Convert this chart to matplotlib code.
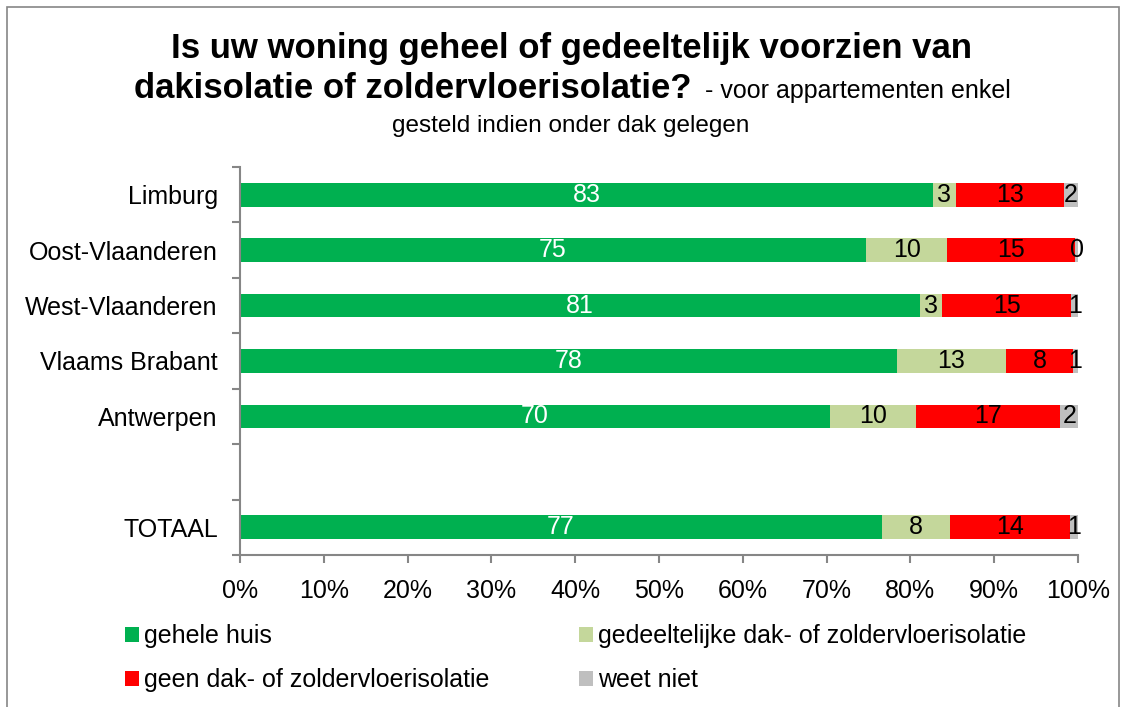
import matplotlib
matplotlib.use('Agg')

import matplotlib.pyplot as plt
from matplotlib.patches import Patch, Rectangle
from matplotlib.ticker import FixedLocator, PercentFormatter

plt.rcParams['font.family'] = ['Liberation Sans', 'DejaVu Sans']

categories = ['Limburg', 'Oost-Vlaanderen', 'West-Vlaanderen', 'Vlaams Brabant', 'Antwerpen', 'TOTAAL']
positions = [6, 5, 4, 3, 2, 0]  # slot 1 is left empty, as in the original

gehele = [82.7, 74.7, 81.1, 78.4, 70.4, 76.6]
gedeeltelijk = [2.7, 9.7, 2.7, 13.0, 10.3, 8.1]
geen = [12.9, 15.3, 15.4, 8.0, 17.2, 14.3]
weet_niet = [1.7, 0.3, 0.8, 0.6, 2.1, 1.0]

series = [
    ('gehele huis', gehele, '#00B050', 'white'),
    ('gedeeltelijke dak- of zoldervloerisolatie', gedeeltelijk, '#C4D79B', 'black'),
    ('geen dak- of zoldervloerisolatie', geen, '#FF0000', 'black'),
    ('weet niet', weet_niet, '#BFBFBF', 'black'),
]

W, H = 1128, 707
fig = plt.figure(figsize=(W / 100, H / 100), dpi=100)
ax = fig.add_axes([240 / W, 1 - 555 / H, 838 / W, 388 / H])

left = [0.0] * len(categories)
for name, vals, color, tcol in series:
    bars = ax.barh(positions, vals, left=left, height=0.43, color=color, label=name)
    for b, v, l in zip(bars, vals, left):
        ax.text(l + v / 2, b.get_y() + b.get_height() / 2, '%d' % round(v),
                ha='center', va='center', color=tcol, fontsize=18)
    left = [a + b for a, b in zip(left, vals)]

ax.set_xlim(0, 100)
ax.set_ylim(-0.5, 6.5)
ax.xaxis.set_major_locator(FixedLocator(range(0, 101, 10)))
ax.xaxis.set_major_formatter(PercentFormatter(decimals=0))
ax.set_yticks(positions)
ax.set_yticklabels(categories)
ax.yaxis.set_minor_locator(FixedLocator([i - 0.5 for i in range(8)]))

axis_gray = '#868686'
for s in ['top', 'right']:
    ax.spines[s].set_visible(False)
for s in ['left', 'bottom']:
    ax.spines[s].set_color(axis_gray)
    ax.spines[s].set_linewidth(1.5)
ax.tick_params(axis='y', which='major', length=0, pad=16, labelsize=18)
ax.tick_params(axis='y', which='minor', length=6, width=1.5, color=axis_gray)
ax.tick_params(axis='x', which='major', length=6, width=1.5, color=axis_gray, pad=11, labelsize=18)

# title
fig.text(571.5 / W, 1 - 58 / H, 'Is uw woning geheel of gedeeltelijk voorzien van',
         ha='center', va='baseline', fontsize=25, fontweight='bold')
fig.text(691 / W, 1 - 98 / H, 'dakisolatie of zoldervloerisolatie?',
         ha='right', va='baseline', fontsize=25, fontweight='bold')
fig.text(705 / W, 1 - 98 / H, '- voor appartementen enkel',
         ha='left', va='baseline', fontsize=18)
fig.text(571 / W, 1 - 132 / H, 'gesteld indien onder dak gelegen',
         ha='center', va='baseline', fontsize=17.5)

# legend (row-wise order)
h = [Patch(facecolor=c, edgecolor='none') for _, _, c, _ in series]
lab = [n for n, _, _, _ in series]
order = [0, 2, 1, 3]
fig.legend([h[i] for i in order], [lab[i] for i in order], ncol=2,
           loc='upper left', bbox_to_anchor=(125 / W, 1 - 624 / H),
           frameon=False, fontsize=18, borderpad=0, borderaxespad=0,
           handlelength=0.56, handleheight=0.56,
           handletextpad=0.2, columnspacing=3.6, labelspacing=0.8)

# outer border
fig.patches.append(Rectangle((7 / W, -0.05), 1112 / W, 1.05 - 7 / H,
                             transform=fig.transFigure, fill=False,
                             edgecolor='#868686', linewidth=1.2))

plt.savefig('out.png')
